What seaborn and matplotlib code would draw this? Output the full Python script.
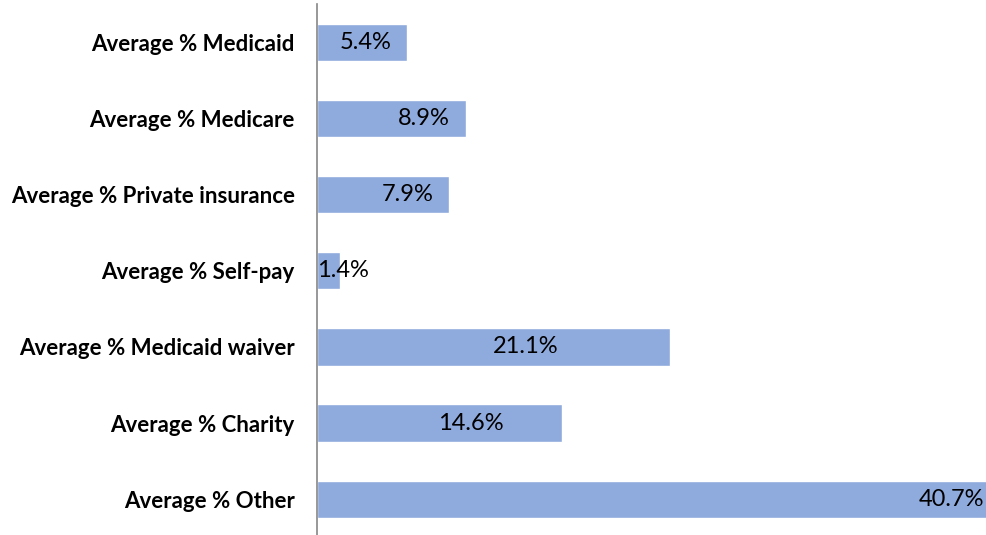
import matplotlib
matplotlib.use("Agg")
import matplotlib.pyplot as plt
import seaborn as sns
import pandas as pd

categories = [
    "Average % Medicaid",
    "Average % Medicare",
    "Average % Private insurance",
    "Average % Self-pay",
    "Average % Medicaid waiver",
    "Average % Charity",
    "Average % Other",
]
values = [5.4, 8.9, 7.9, 1.4, 21.1, 14.6, 40.7]
value_labels = ["5.4%", "8.9%", "7.9%", "1.4%", "21.1%", "14.6%", "40.7%"]
# horizontal centre of each value label, in axis units
label_centers = [2.93, 6.39, 5.41, 1.55, 12.46, 9.17, 37.87]

df = pd.DataFrame({"category": categories, "value": values})

sns.set_theme(style="white")
plt.rcParams["font.family"] = ["Lato", "DejaVu Sans"]

fig = plt.figure(figsize=(9.87, 5.35), dpi=100)
ax = fig.add_axes([317 / 987, 0.0, 1 - 317 / 987, 1 - 4.4 / 535])

sns.barplot(data=df, x="value", y="category", orient="h", color="#8FAADC",
            saturation=1, width=0.49, ax=ax)

for i, (txt, xc) in enumerate(zip(value_labels, label_centers)):
    ax.text(xc, i, txt, ha="center", va="center", fontsize=17, color="black")

ax.set_xlim(0, 40.0)
ax.set_ylim(6.47, -0.5)
ax.set_xlabel("")
ax.set_ylabel("")
ax.set_xticks([])
ax.tick_params(axis="y", length=0, pad=16)
for lab in ax.get_yticklabels():
    lab.set_fontweight("bold")
    lab.set_fontsize(16)
    lab.set_color("black")

for side in ["top", "right", "bottom"]:
    ax.spines[side].set_visible(False)
ax.spines["left"].set_color("#868686")
ax.spines["left"].set_linewidth(1.2)

fig.savefig("out.png", dpi=100, facecolor="white")
